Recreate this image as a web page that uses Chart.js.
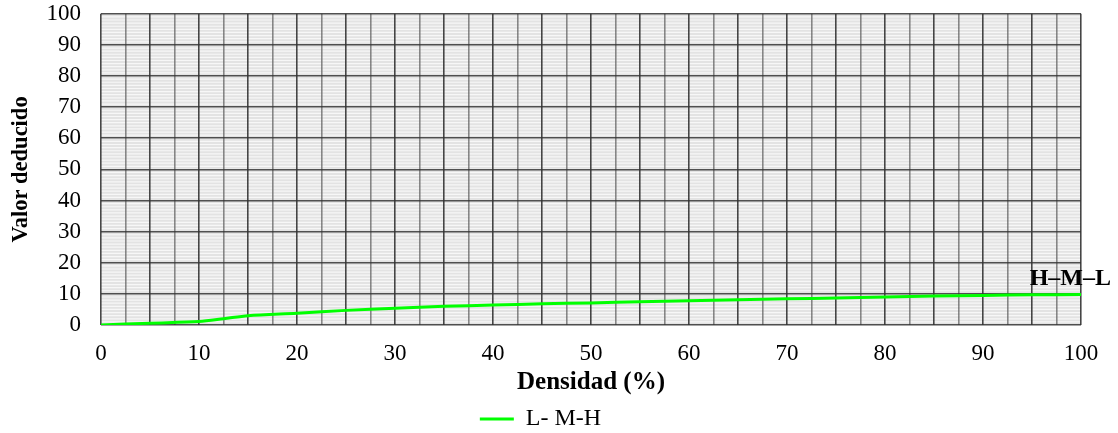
<!DOCTYPE html>
<html lang="es">
<head>
  <meta charset="UTF-8">
  <title>Valor deducido</title>
  <script src="https://cdn.jsdelivr.net/npm/chart.js"></script>
  <style>
    body {
      margin: 0;
      background: #fff;
    }
    #chart-container {
      width: 1118px;
      height: 433px;
    }
  </style>
</head>
<body>
  <div id="chart-container">
    <canvas id="curveChart"></canvas>
  </div>
  <script>
    // densidad (%) y valor deducido de la curva
    const densidad = [0, 5, 10, 12.5, 15, 20, 25, 30, 35, 40, 45, 50, 55, 60, 65, 70, 75, 80, 85, 90, 95, 100];
    const valorDeducido = [0, 0.6, 1.1, 2.0, 3.0, 3.8, 4.7, 5.4, 6.0, 6.4, 6.8, 7.1, 7.5, 7.8, 8.1, 8.4, 8.7, 9.0, 9.3, 9.5, 9.7, 9.8];
    const xTicks = [0, 10, 20, 30, 40, 50, 60, 70, 80, 90, 100];
    const yTicks = [0, 10, 20, 30, 40, 50, 60, 70, 80, 90, 100];
    const serieLabel = 'L- M-H';
    const curvaLabel = 'H–M–L';

    const serif = "'Liberation Serif', 'DejaVu Serif', serif";

    // fondo gris rayado del área de trazado (una raya clara por unidad)
    const areaFondo = {
      id: 'areaFondo',
      beforeDraw(chart) {
        const { ctx, chartArea: a, scales } = chart;
        ctx.save();
        ctx.fillStyle = '#e3e3e3';
        ctx.fillRect(a.left, a.top, a.right - a.left, a.bottom - a.top);
        ctx.strokeStyle = '#f7f7f7';
        ctx.lineWidth = 1.2;
        ctx.beginPath();
        for (let v = 0; v <= 100; v += 1) {
          const y = scales.y.getPixelForValue(v);
          ctx.moveTo(a.left, y);
          ctx.lineTo(a.right, y);
        }
        ctx.stroke();
        ctx.restore();
      }
    };

    // rótulo de la curva junto al último punto
    const rotuloCurva = {
      id: 'rotuloCurva',
      afterDatasetsDraw(chart) {
        const { ctx, scales } = chart;
        const n = densidad.length - 1;
        const x = scales.x.getPixelForValue(densidad[n]);
        const y = scales.y.getPixelForValue(valorDeducido[n]);
        ctx.save();
        ctx.font = 'bold 24px ' + serif;
        ctx.fillStyle = '#000';
        ctx.textAlign = 'right';
        ctx.textBaseline = 'alphabetic';
        ctx.fillText(curvaLabel, x + 30, y - 10);
        ctx.restore();
      }
    };

    const ctx = document.getElementById('curveChart').getContext('2d');
    new Chart(ctx, {
      type: 'line',
      data: {
        datasets: [{
          label: serieLabel,
          data: densidad.map((d, i) => ({ x: d, y: valorDeducido[i] })),
          borderColor: '#00ff00',
          backgroundColor: '#00ff00',
          borderWidth: 3,
          pointRadius: 0,
          pointStyle: 'line',
          tension: 0.3,
          fill: false
        }]
      },
      options: {
        responsive: true,
        maintainAspectRatio: false,
        animation: false,
        layout: { padding: { top: 1, right: 37, left: 0, bottom: -8 } },
        plugins: {
          tooltip: { enabled: false },
          legend: {
            position: 'bottom',
            labels: {
              font: { family: serif, size: 24 },
              color: '#000',
              usePointStyle: true,
              pointStyleWidth: 34,
              padding: 0
            }
          }
        },
        scales: {
          x: {
            type: 'linear',
            min: 0,
            max: 100,
            afterBuildTicks: s => {
              const t = [];
              for (let v = 0; v <= 100; v += 2.5) t.push({ value: v });
              s.ticks = t;
            },
            afterFit: s => { s.height = 82; },
            ticks: {
              autoSkip: false,
              maxRotation: 0,
              padding: 15,
              color: '#000',
              font: { family: serif, size: 23 },
              callback: v => xTicks.includes(v) ? v : ''
            },
            grid: {
              color: c => (c.tick && c.tick.value % 5 === 0) ? 'rgba(40,40,40,0.85)' : 'rgba(90,90,90,0.7)',
              lineWidth: 1.6,
              drawTicks: false
            },
            border: { display: false },
            title: {
              display: true,
              text: 'Densidad (%)',
              color: '#000',
              font: { family: serif, size: 25, weight: 'bold' },
              padding: { top: 2, bottom: 9 }
            }
          },
          y: {
            type: 'linear',
            min: 0,
            max: 100,
            afterBuildTicks: s => { s.ticks = yTicks.map(v => ({ value: v })); },
            afterFit: s => { s.width = 101; },
            ticks: {
              autoSkip: false,
              padding: 0,
              color: '#000',
              font: { family: serif, size: 23 }
            },
            grid: {
              color: 'rgba(50,50,50,0.85)',
              lineWidth: 1.6,
              drawTicks: true,
              tickLength: 20,
              tickColor: 'rgba(0,0,0,0)'
            },
            border: { display: false },
            title: {
              display: true,
              text: 'Valor deducido',
              color: '#000',
              font: { family: serif, size: 22.5, weight: 'bold' },
              padding: { top: 8, bottom: 0 }
            }
          }
        }
      },
      plugins: [areaFondo, rotuloCurva]
    });
  </script>
</body>
</html>
